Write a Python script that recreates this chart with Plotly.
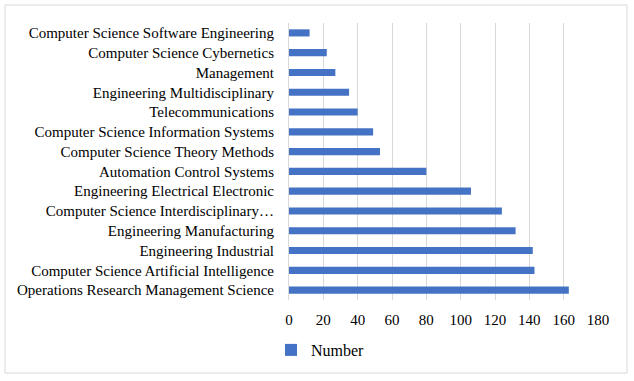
import plotly.graph_objects as go

categories = [
    "Operations Research Management Science",
    "Computer Science Artificial Intelligence",
    "Engineering Industrial",
    "Engineering Manufacturing",
    "Computer Science Interdisciplinary…",
    "Engineering Electrical Electronic",
    "Automation Control Systems",
    "Computer Science Theory Methods",
    "Computer Science Information Systems",
    "Telecommunications",
    "Engineering Multidisciplinary",
    "Management",
    "Computer Science Cybernetics",
    "Computer Science Software Engineering",
]
numbers = [163, 143, 142, 132, 124, 106, 80, 53, 49, 40, 35, 27, 22, 12]
x_ticks = [0, 20, 40, 60, 80, 100, 120, 140, 160, 180]

FONT = "Liberation Serif, Times New Roman, serif"
W, H = 634, 381
L, R, T, B = 289, 36, 23, 81
pw, ph = W - L - R, H - T - B

fig = go.Figure(
    go.Bar(
        y=categories,
        x=numbers,
        orientation="h",
        name="Number",
        marker=dict(color="#4472C4", line=dict(width=0)),
        width=0.36,
        showlegend=True,
    )
)

fig.update_layout(
    width=W,
    height=H,
    margin=dict(l=L, r=R, t=T, b=B, autoexpand=False),
    paper_bgcolor="white",
    plot_bgcolor="white",
    font=dict(family=FONT, size=15, color="black"),
    showlegend=True,
    legend=dict(
        orientation="h",
        x=-18 / pw,
        xanchor="left",
        y=-50 / ph,
        yanchor="middle",
        font=dict(family=FONT, size=16, color="black"),
        itemwidth=30,
    ),
    xaxis=dict(
        range=[0, 180],
        tickvals=x_ticks,
        ticktext=[str(v) for v in x_ticks],
        showgrid=True,
        gridcolor="#d9d9d9",
        gridwidth=1,
        zeroline=False,
        showline=False,
        ticks="",
        automargin=False,
        ticklabelstandoff=9,
        tickfont=dict(family=FONT, size=15, color="black"),
        fixedrange=True,
    ),
    yaxis=dict(
        categoryorder="array",
        categoryarray=categories,
        showgrid=False,
        showline=True,
        linecolor="#d9d9d9",
        linewidth=1,
        ticks="",
        automargin=False,
        ticklabelstandoff=11,
        tickfont=dict(family=FONT, size=15, color="black"),
        fixedrange=True,
    ),
    shapes=[
        dict(
            type="rect",
            xref="paper",
            yref="paper",
            x0=(5 - L) / pw,
            x1=(627 - L) / pw,
            y0=(H - B - 373) / ph,
            y1=(H - B - 5) / ph,
            line=dict(color="#d9d9d9", width=1),
            fillcolor="rgba(0,0,0,0)",
            layer="below",
        )
    ],
)

fig.write_html(
    "out.html",
    post_script="document.body.style.margin='0';document.body.style.overflow='hidden';",
    config={"displayModeBar": False},
)
